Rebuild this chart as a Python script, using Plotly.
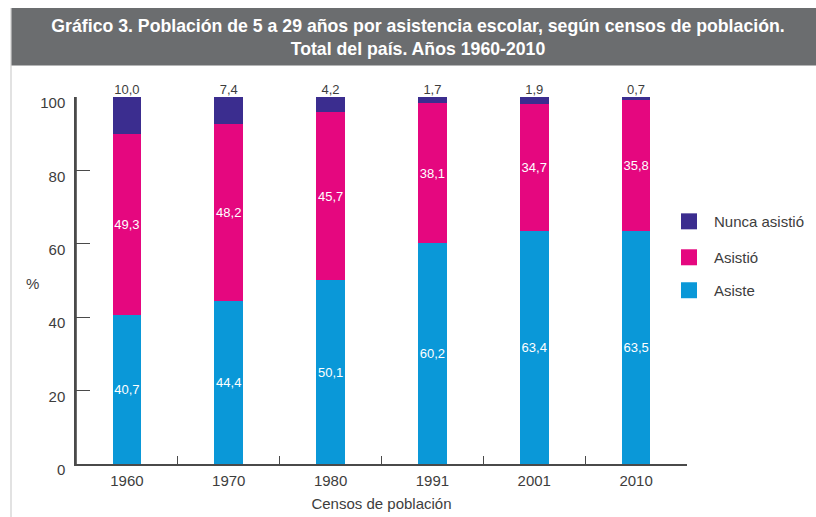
import plotly.graph_objects as go

# Census years and school attendance shares (% of population aged 5-29)
years = ["1960", "1970", "1980", "1991", "2001", "2010"]
asiste = [40.7, 44.4, 50.1, 60.2, 63.4, 63.5]
asistio = [49.3, 48.2, 45.7, 38.1, 34.7, 35.8]
nunca_asistio = [10.0, 7.4, 4.2, 1.7, 1.9, 0.7]

series_names = ["Nunca asistió", "Asistió", "Asiste"]
series_colors = ["#3b2d8f", "#e5077f", "#0a98d8"]

y_ticks = [0, 20, 40, 60, 80, 100]

title_lines = [
    "Gráfico 3. Población de 5 a 29 años por asistencia escolar, según censos de población.",
    "Total del país. Años 1960-2010",
]

W, H = 816, 517
# plot area in pixels
L, R, T, B = 76, 687, 96.5, 464
PW, PH = R - L, B - T


def px_x(x):
    return (x - L) / PW


def px_y(y):
    return (B - y) / PH


FONT = "Liberation Sans, Arial, Helvetica, sans-serif"
TEXT_GRAY = "#3d3d3d"
AXIS_GRAY = "#4a4a4a"

fig = go.Figure()

bar_common = dict(
    x=years,
    width=0.283,
    textangle=0,
    constraintext="none",
    cliponaxis=False,
    hoverinfo="skip",
    showlegend=False,
)

fig.add_trace(go.Bar(
    y=asiste, name=series_names[2], marker=dict(color=series_colors[2], line=dict(width=0)),
    texttemplate="%{y:.1f}", textposition="inside", insidetextanchor="middle",
    textfont=dict(family=FONT, size=13, color="white"),
    **bar_common,
))
fig.add_trace(go.Bar(
    y=asistio, name=series_names[1], marker=dict(color=series_colors[1], line=dict(width=0)),
    texttemplate="%{y:.1f}", textposition="inside", insidetextanchor="middle",
    textfont=dict(family=FONT, size=13, color="white"),
    **bar_common,
))
fig.add_trace(go.Bar(
    y=nunca_asistio, name=series_names[0], marker=dict(color=series_colors[0], line=dict(width=0)),
    textposition="none",
    **bar_common,
))

# "Nunca asistió" values written just above the top of each stack
stack_tops = [round(a + b + c, 1) for a, b, c in zip(asiste, asistio, nunca_asistio)]
fig.add_trace(go.Scatter(
    x=years, y=stack_tops, mode="text",
    text=[f"{v:.1f}".replace(".", ",") for v in nunca_asistio],
    textposition="top center",
    textfont=dict(family=FONT, size=13, color=TEXT_GRAY),
    cliponaxis=False, hoverinfo="skip", showlegend=False,
))

shapes = []
annotations = []

# grey title band and thin frame line on the left
shapes.append(dict(
    type="rect", xref="paper", yref="paper", layer="below",
    x0=px_x(11), x1=px_x(W + 5), y0=px_y(65), y1=px_y(7.3),
    fillcolor="#6b6d6f", line=dict(width=0),
))
shapes.append(dict(
    type="line", xref="paper", yref="paper", layer="below",
    x0=px_x(11), x1=px_x(11), y0=px_y(7.3), y1=px_y(H + 5),
    line=dict(color="#cfcfcf", width=1.2),
))
# vertical value-axis line from 0 to 100
shapes.append(dict(
    type="line", xref="paper", yref="paper",
    x0=0, x1=0, y0=0, y1=1,
    line=dict(color=AXIS_GRAY, width=1.6),
))

# legend: coloured squares with labels
legend_rows = [221, 257, 290]
for name, color, cy in zip(series_names, series_colors, legend_rows):
    shapes.append(dict(
        type="rect", xref="paper", yref="paper",
        x0=px_x(681), x1=px_x(697), y0=px_y(cy + 8), y1=px_y(cy - 8),
        fillcolor=color, line=dict(width=0),
    ))
    annotations.append(dict(
        xref="paper", yref="paper", x=px_x(712), y=px_y(cy),
        xanchor="left", yanchor="middle", showarrow=False,
        text=name, font=dict(family=FONT, size=15, color=TEXT_GRAY),
    ))

# "%" label for the value axis
annotations.append(dict(
    xref="paper", yref="paper", x=px_x(33), y=px_y(283),
    xanchor="center", yanchor="middle", showarrow=False,
    text="%", font=dict(family=FONT, size=15, color=TEXT_GRAY),
))

fig.update_layout(
    width=W, height=H,
    margin=dict(l=L, r=W - R, t=T, b=H - B, pad=0),
    paper_bgcolor="white", plot_bgcolor="white",
    barmode="stack",
    separators=",.",
    showlegend=False,
    font=dict(family=FONT, size=15, color=TEXT_GRAY),
    title=dict(
        text="<b>" + title_lines[0] + "</b><br><b>" + title_lines[1] + "</b>",
        xref="container", yref="container",
        x=418 / W, xanchor="center",
        y=1 - 32 / H, yanchor="middle",
        font=dict(family=FONT, size=17.7, color="white"),
    ),
    shapes=shapes,
    annotations=annotations,
)

fig.update_xaxes(
    type="category",
    range=[-0.5, 5.5],
    automargin=False,
    showline=True, linecolor=AXIS_GRAY, linewidth=1.5,
    ticks="inside", tickson="boundaries", ticklen=8, tickwidth=1.3, tickcolor=AXIS_GRAY,
    showgrid=False, zeroline=False,
    ticklabelstandoff=2,
    tickfont=dict(family=FONT, size=15, color=TEXT_GRAY),
    title=dict(text="Censos de población", font=dict(family=FONT, size=15, color=TEXT_GRAY), standoff=11),
)

fig.update_yaxes(
    range=[0, 100],
    automargin=False,
    tickvals=y_ticks,
    ticktext=[str(v) for v in y_ticks],
    showline=True, linecolor=AXIS_GRAY, linewidth=1.5,
    ticks="inside", ticklen=14, tickwidth=1.3, tickcolor=AXIS_GRAY,
    showgrid=False, zeroline=False,
    ticklabelstandoff=6,
    ticklabelshift=6,
    tickfont=dict(family=FONT, size=15, color=TEXT_GRAY),
)

fig.write_html("out.html")
